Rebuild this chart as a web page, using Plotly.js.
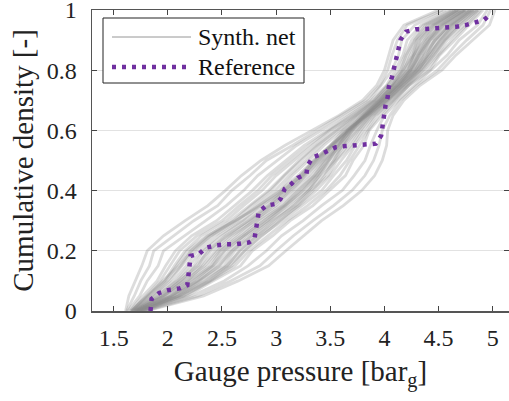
<!DOCTYPE html>
<html>
<head>
<meta charset="utf-8">
<script src="https://cdn.plot.ly/plotly-3.0.1.min.js"></script>
<style>html,body{margin:0;padding:0;background:#fff;}#chart{width:509px;height:401px;}</style>
</head>
<body>
<div id="chart"></div>
<script>
// Cumulative density levels shared by the synthetic-network curves
const cdfLevels = [0,0.05,0.10,0.15,0.20,0.25,0.30,0.35,0.40,0.45,0.50,0.55,0.60,0.65,0.70,0.75,0.80,0.85,0.90,0.95,1.00];

// Gauge pressure (bar_g) of each synthetic network at those levels
const net01 = [1.61,1.64,1.70,1.76,1.81,1.96,2.16,2.37,2.53,2.68,2.86,3.08,3.33,3.58,3.80,3.93,4.00,4.04,4.08,4.18,4.50];
const net02 = [1.62,1.69,1.75,1.83,1.87,2.05,2.24,2.46,2.59,2.76,2.91,3.15,3.37,3.60,3.83,3.96,4.03,4.07,4.12,4.21,4.54];
const net03 = [1.63,1.74,1.81,1.91,1.96,2.16,2.35,2.54,2.70,2.83,3.01,3.19,3.42,3.64,3.86,3.97,4.07,4.13,4.16,4.28,4.57];
const net04 = [1.65,1.77,1.90,1.98,2.07,2.22,2.45,2.61,2.78,2.92,3.09,3.26,3.47,3.67,3.88,4.02,4.10,4.17,4.21,4.34,4.61];
const net05 = [1.66,1.82,1.97,2.06,2.16,2.31,2.54,2.70,2.87,3.00,3.17,3.34,3.50,3.72,3.91,4.03,4.15,4.20,4.28,4.38,4.65];
const net06 = [1.68,1.86,2.02,2.13,2.24,2.39,2.61,2.77,2.95,3.08,3.23,3.38,3.56,3.74,3.92,4.07,4.17,4.26,4.30,4.44,4.68];
const net07 = [1.69,1.90,2.08,2.20,2.31,2.47,2.69,2.85,3.03,3.15,3.30,3.44,3.61,3.77,3.96,4.08,4.22,4.27,4.37,4.47,4.71];
const net08 = [1.70,1.95,2.11,2.28,2.36,2.55,2.73,2.93,3.07,3.23,3.34,3.50,3.62,3.81,3.96,4.12,4.24,4.30,4.41,4.51,4.74];
const net09 = [1.71,1.97,2.18,2.32,2.44,2.59,2.81,2.97,3.15,3.27,3.41,3.53,3.68,3.82,3.99,4.14,4.25,4.35,4.42,4.57,4.75];
const net10 = [1.72,2.02,2.20,2.40,2.49,2.68,2.85,3.06,3.20,3.35,3.45,3.60,3.71,3.84,4.02,4.16,4.28,4.39,4.46,4.61,4.79];
const net11 = [1.73,2.04,2.27,2.44,2.57,2.72,2.93,3.10,3.28,3.40,3.53,3.63,3.75,3.87,4.03,4.18,4.32,4.40,4.52,4.63,4.82];
const net12 = [1.74,2.09,2.30,2.52,2.62,2.80,2.97,3.18,3.32,3.48,3.56,3.69,3.78,3.89,4.05,4.20,4.33,4.45,4.55,4.67,4.84];
const net13 = [1.75,2.11,2.38,2.57,2.71,2.86,3.06,3.24,3.42,3.53,3.65,3.73,3.83,3.92,4.08,4.22,4.36,4.48,4.58,4.74,4.87];
const net14 = [1.76,2.18,2.42,2.67,2.78,2.97,3.13,3.34,3.49,3.64,3.71,3.81,3.86,3.98,4.10,4.23,4.42,4.51,4.65,4.78,4.91];
const net15 = [1.78,2.22,2.52,2.74,2.91,3.05,3.25,3.42,3.61,3.72,3.82,3.87,3.93,4.00,4.13,4.28,4.44,4.58,4.69,4.86,4.95];
const net16 = [1.79,2.28,2.58,2.85,3.00,3.16,3.34,3.53,3.70,3.82,3.90,3.95,3.98,4.05,4.15,4.30,4.49,4.62,4.76,4.91,4.98];
const net17 = [1.80,2.33,2.65,2.93,3.09,3.25,3.42,3.62,3.79,3.91,3.98,4.02,4.03,4.08,4.18,4.33,4.53,4.66,4.81,4.97,5.02];
const net18 = [1.67,1.83,1.98,2.08,2.18,2.36,2.62,2.86,3.08,3.24,3.38,3.52,3.66,3.82,4.00,4.15,4.30,4.42,4.52,4.66,4.83];
const net19 = [1.74,2.10,2.35,2.55,2.66,2.82,2.99,3.16,3.30,3.40,3.49,3.58,3.66,3.79,3.95,4.09,4.21,4.27,4.33,4.45,4.68];
const net20 = [1.70,1.96,2.15,2.34,2.46,2.62,2.79,3.00,3.13,3.30,3.42,3.55,3.67,3.84,3.98,4.12,4.27,4.33,4.44,4.55,4.77];
const net21 = [1.69,1.92,2.09,2.24,2.33,2.50,2.70,2.90,3.06,3.22,3.36,3.51,3.66,3.83,3.99,4.14,4.28,4.37,4.47,4.60,4.80];
const net22 = [1.72,2.06,2.28,2.47,2.59,2.75,2.92,3.09,3.25,3.38,3.48,3.58,3.69,3.84,3.98,4.12,4.24,4.32,4.40,4.53,4.74];
const net23 = [1.71,2.03,2.24,2.41,2.52,2.70,2.88,3.07,3.22,3.36,3.46,3.57,3.68,3.80,3.95,4.07,4.16,4.22,4.28,4.40,4.66];
const net24 = [1.70,1.96,2.14,2.30,2.40,2.57,2.77,2.95,3.11,3.25,3.37,3.51,3.65,3.82,3.97,4.13,4.25,4.32,4.42,4.54,4.75];
const net25 = [1.72,2.03,2.23,2.42,2.53,2.70,2.89,3.08,3.24,3.37,3.49,3.62,3.73,3.86,4.02,4.17,4.30,4.40,4.49,4.62,4.80];
const net26 = [1.75,2.10,2.34,2.54,2.67,2.83,3.02,3.21,3.37,3.50,3.60,3.71,3.80,3.91,4.06,4.21,4.35,4.46,4.56,4.70,4.86];
const net27 = [1.68,1.88,2.05,2.17,2.27,2.43,2.65,2.81,2.99,3.12,3.27,3.41,3.58,3.76,3.94,4.08,4.19,4.27,4.34,4.46,4.70];
const net28 = [1.66,1.80,1.93,2.02,2.11,2.27,2.50,2.66,2.83,2.96,3.13,3.30,3.49,3.70,3.90,4.03,4.13,4.19,4.25,4.36,4.63];
const net29 = [1.76,2.15,2.40,2.62,2.75,2.92,3.10,3.29,3.46,3.59,3.68,3.77,3.85,3.95,4.09,4.23,4.39,4.50,4.62,4.76,4.89];
const net30 = [1.66,1.81,1.95,2.10,2.22,2.40,2.63,2.84,3.04,3.20,3.35,3.50,3.65,3.84,4.02,4.17,4.33,4.44,4.55,4.70,4.86];
const net31 = [1.75,2.14,2.39,2.59,2.71,2.87,3.03,3.20,3.34,3.45,3.53,3.61,3.70,3.81,3.96,4.10,4.22,4.29,4.37,4.49,4.70];
const net32 = [1.71,1.99,2.19,2.37,2.48,2.65,2.83,3.03,3.18,3.33,3.44,3.57,3.70,3.85,4.00,4.15,4.29,4.36,4.47,4.59,4.78];
const net33 = [1.69,1.93,2.12,2.26,2.38,2.53,2.75,2.94,3.10,3.26,3.39,3.53,3.67,3.82,3.98,4.11,4.24,4.31,4.39,4.52,4.73];
const net34 = [1.73,2.06,2.29,2.48,2.60,2.77,2.95,3.14,3.30,3.43,3.55,3.66,3.76,3.88,4.04,4.19,4.31,4.42,4.51,4.64,4.82];
const net35 = [1.67,1.85,2.00,2.12,2.21,2.37,2.58,2.76,2.93,3.07,3.21,3.37,3.54,3.73,3.92,4.06,4.18,4.24,4.31,4.42,4.67];
const synthNets = [net01,net02,net03,net04,net05,net06,net07,net08,net09,net10,net11,net12,net13,net14,net15,net16,net17,net18,
                   net19,net20,net21,net22,net23,net24,net25,net26,net27,net28,net29,net30,net31,net32,net33,net34,net35];

// Reference network
const refPressure = [1.84,1.85,1.92,2.01,2.11,2.18,2.19,2.20,2.21,2.29,2.35,2.45,2.54,2.63,2.75,2.80,2.81,2.83,2.84,2.91,3.00,3.04,3.08,3.14,3.20,3.28,3.29,3.32,3.34,3.41,3.49,3.55,3.64,3.84,3.92,3.97,3.98,4.00,4.01,4.03,4.04,4.07,4.09,4.11,4.12,4.15,4.20,4.29,4.38,4.47,4.57,4.66,4.75,4.84,4.92,4.97,4.98];
const refDensity  = [0,0.04,0.06,0.07,0.075,0.086,0.117,0.15,0.183,0.19,0.21,0.218,0.222,0.222,0.228,0.24,0.267,0.30,0.33,0.35,0.356,0.372,0.406,0.422,0.442,0.456,0.483,0.50,0.511,0.52,0.533,0.544,0.548,0.552,0.556,0.583,0.617,0.65,0.683,0.711,0.744,0.778,0.81,0.839,0.869,0.902,0.928,0.936,0.937,0.939,0.941,0.944,0.95,0.961,0.967,0.983,0.99];

const xTicks = [1.5,2,2.5,3,3.5,4,4.5,5];
const yTicks = [0,0.2,0.4,0.6,0.8,1];
const legendNames = ['Synth. net','Reference'];

const FONT = '"Liberation Serif", "Times New Roman", Times, serif';
const GRAY = 'rgba(140,140,140,0.3)';
const PURPLE = '#7030A0';

const traces = synthNets.map(xs => ({
  type: 'scatter', mode: 'lines', x: xs, y: cdfLevels,
  line: {color: GRAY, width: 2.8}, hoverinfo: 'skip', showlegend: false
}));
traces.push({
  type: 'scatter', mode: 'lines', x: refPressure, y: refDensity,
  line: {color: PURPLE, width: 4.5, dash: '4px,6px'}, showlegend: false
});

// pixel -> paper helpers for the hand-placed legend box
const L = 92, T = 10, W = 417, H = 301;
const px = v => (v - L) / W;
const py = v => (T + H - v) / H;

const layout = {
  width: 509, height: 401,
  margin: {l: L, r: 0, t: T, b: 90},
  paper_bgcolor: '#fff', plot_bgcolor: '#fff',
  font: {family: FONT, size: 22, color: '#222'},
  showlegend: false,
  xaxis: {
    range: [1.3, 5.15], tickvals: xTicks, ticktext: xTicks.map(String),
    ticks: 'inside', ticklen: 5, tickcolor: '#444', tickwidth: 1,
    showline: true, linecolor: '#555', linewidth: 1.5, mirror: 'ticks',
    showgrid: false, zeroline: false, ticklabelstandoff: 5, ticklabeloverflow: 'allow',
    tickfont: {family: FONT, size: 24, color: '#222'},
    title: {text: 'Gauge pressure [bar<sub>g</sub>]', font: {family: FONT, size: 29, color: '#222'}, standoff: 10}
  },
  yaxis: {
    range: [0, 1], tickvals: yTicks, ticktext: ['0','0.2','0.4','0.6','0.8','1'],
    ticks: 'inside', ticklen: 5, tickcolor: '#444', tickwidth: 1,
    showline: true, linecolor: '#555', linewidth: 1.5, mirror: 'ticks',
    showgrid: true, gridcolor: '#e2e2e2', gridwidth: 1, zeroline: false,
    ticklabelstandoff: 9, ticklabeloverflow: 'allow',
    tickfont: {family: FONT, size: 24, color: '#222'},
    title: {text: 'Cumulative density [-]', font: {family: FONT, size: 29, color: '#222'}, standoff: 4}
  },
  shapes: [
    {type: 'rect', xref: 'paper', yref: 'paper', x0: px(103), x1: px(304), y0: py(83), y1: py(18),
     line: {color: '#222', width: 1}, fillcolor: '#fff', layer: 'above'},
    {type: 'line', xref: 'paper', yref: 'paper', x0: px(112), x1: px(191), y0: py(37), y1: py(37),
     line: {color: 'rgb(150,150,150)', width: 1}, layer: 'above'},
    {type: 'line', xref: 'paper', yref: 'paper', x0: px(112), x1: px(192), y0: py(67), y1: py(67),
     line: {color: PURPLE, width: 4.5, dash: '4px,6px'}, layer: 'above'}
  ],
  annotations: legendNames.map((t, i) => ({
    xref: 'paper', yref: 'paper', x: px(196), y: py(i === 0 ? 37 : 67),
    xanchor: 'left', yanchor: 'middle', showarrow: false, text: t,
    font: {family: FONT, size: 24, color: '#111'}
  }))
};

Plotly.newPlot('chart', traces, layout, {staticPlot: true, displayModeBar: false});
</script>
</body>
</html>
